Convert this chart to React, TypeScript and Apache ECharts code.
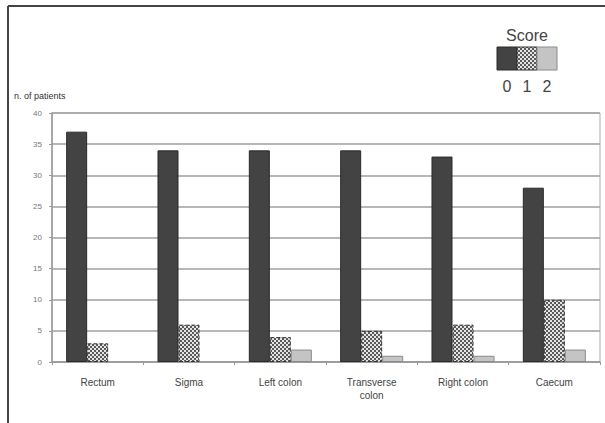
import React, { useEffect, useRef } from "react";
import * as echarts from "echarts";

const categories = ["Rectum", "Sigma", "Left colon", "Transverse\ncolon", "Right colon", "Caecum"];
const score0 = [37, 34, 34, 34, 33, 28];
const score1 = [3, 6, 4, 5, 6, 10];
const score2 = [0, 0, 2, 1, 1, 2];
const yTicks = { min: 0, max: 40, interval: 5 };
const legendLabels = ["0", "1", "2"];

function makeChecker(): HTMLCanvasElement {
  const c = document.createElement("canvas");
  c.width = 4;
  c.height = 4;
  const ctx = c.getContext("2d")!;
  ctx.fillStyle = "#e4e4e4";
  ctx.fillRect(0, 0, 4, 4);
  ctx.fillStyle = "#5a5a5a";
  ctx.fillRect(0, 0, 2, 2);
  ctx.fillRect(2, 2, 2, 2);
  return c;
}

export default function App() {
  const ref = useRef<HTMLDivElement>(null);
  useEffect(() => {
    if (!ref.current) return;
    const chart = echarts.init(ref.current, undefined, { renderer: "svg" });
    const checker = makeChecker();
    const pattern: any = { image: checker, repeat: "repeat" };
    const font = "Liberation Sans, Arial, sans-serif";
    const colors = ["#434343", pattern, "#c4c4c4"];
    const borders = ["#2a2a2a", "#333333", "#8a8a8a"];
    const lx = 497, ly = 47, sw = 20, sh = 23;
    chart.setOption({
      animation: false,
      textStyle: { fontFamily: font },
      grid: {
        left: 52, right: 5, top: 113, bottom: 61,
        show: true, borderColor: "#aaaaaa", borderWidth: 1, backgroundColor: "transparent",
      },
      xAxis: {
        type: "category",
        data: categories,
        axisLine: { lineStyle: { color: "#999999", width: 1.5 } },
        axisTick: { show: true, length: 3, lineStyle: { color: "#999999" } },
        axisLabel: { color: "#444444", fontSize: 10, margin: 14, lineHeight: 13, fontFamily: font },
      },
      yAxis: {
        type: "value",
        min: yTicks.min, max: yTicks.max, interval: yTicks.interval,
        axisLine: { show: true, lineStyle: { color: "#999999", width: 1.5 } },
        axisTick: { show: true, length: 3, lineStyle: { color: "#999999" } },
        axisLabel: { color: "#777777", fontSize: 8, margin: 10, fontFamily: font },
        splitLine: { lineStyle: { color: "#9f9f9f", width: 1.5 } },
      },
      series: [score0, score1, score2].map((d, i) => ({
        type: "bar",
        name: legendLabels[i],
        data: d.map((v) => (v === 0 ? { value: v, itemStyle: { borderWidth: 0 } } : v)),
        barGap: "0%",
        barCategoryGap: "31%",
        itemStyle: {
          color: colors[i],
          borderColor: borders[i],
          borderWidth: 1,
          borderType: i === 1 ? "dashed" : "solid",
        },
      })),
      graphic: [
        { type: "line", shape: { x1: 8, y1: 6, x2: 605, y2: 6 }, style: { stroke: "#444444", lineWidth: 2 } },
        { type: "line", shape: { x1: 8, y1: 6, x2: 8, y2: 423 }, style: { stroke: "#444444", lineWidth: 2 } },
        { type: "text", left: 14, top: 91, style: { text: "n. of patients", fontSize: 9, fill: "#333333", fontFamily: font } },
        { type: "text", x: 527, y: 27, style: { text: "Score", fontSize: 16, fill: "#444444", textAlign: "center", fontFamily: font } },
        ...[0, 1, 2].map((i) => ({
          type: "rect",
          shape: { x: lx + i * sw, y: ly, width: sw, height: sh },
          style: { fill: colors[i], stroke: borders[i], lineWidth: 1 },
        })),
        ...legendLabels.map((t, i) => ({
          type: "text",
          x: lx + i * sw + sw / 2,
          y: 78,
          style: { text: t, fontSize: 16, fill: "#444444", textAlign: "center", fontFamily: font },
        })),
      ],
    });
    return () => chart.dispose();
  }, []);
  return <div ref={ref} style={{ position: "absolute", left: 0, top: 0, width: 605, height: 423 }} />;
}
